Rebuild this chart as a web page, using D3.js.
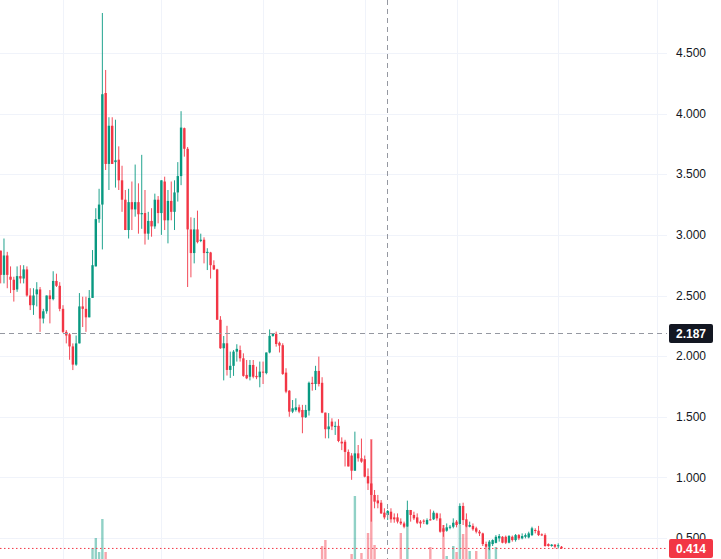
<!DOCTYPE html>
<html>
<head>
<meta charset="utf-8">
<script src="https://cdn.jsdelivr.net/npm/d3@7"></script>
<style>
  body { margin: 0; background: #fff; }
  svg { display: block; font-family: "Liberation Sans", Arial, sans-serif; }
</style>
</head>
<body>
<div id="chart"></div>
<script>
// daily candles
const opens = [2.87,2.67,2.83,2.655,2.63,2.55,2.66,2.64,2.715,2.50,2.42,2.51,2.55,2.31,2.37,2.50,2.47,2.62,2.58,2.39,
  2.20,2.18,2.08,1.93,2.105,2.41,2.39,2.32,2.48,2.74,3.13,3.25,4.17,3.585,3.90,3.60,3.62,3.45,3.29,3.04,
  3.27,3.21,3.27,3.17,3.18,3.01,3.115,3.07,3.29,3.18,3.44,3.12,3.28,3.19,3.35,3.485,3.88,3.71,3.045,2.85,
  3.045,2.95,2.96,2.85,2.855,2.75,2.715,2.30,2.065,2.106,1.886,1.92,2.037,2.05,1.982,1.845,1.83,1.927,1.837,1.826,
  1.872,1.86,2.03,2.167,2.183,2.11,2.09,1.864,1.715,1.542,1.556,1.578,1.556,1.496,1.55,1.78,1.77,1.878,1.78,1.534,
  1.397,1.46,1.42,1.425,1.294,1.294,1.21,1.18,1.055,1.198,1.157,1.15,1.01,0.95,0.855,0.81,0.791,0.709,0.69,0.717,
  0.67,0.67,0.635,0.62,0.593,0.731,0.69,0.67,0.635,0.643,0.615,0.654,0.654,0.703,0.662,0.58,0.56,0.588,0.593,0.635,
  0.615,0.764,0.654,0.593,0.60,0.58,0.552,0.538,0.45,0.428,0.45,0.46,0.497,0.51,0.51,0.461,0.51,0.483,0.524,0.497,
  0.51,0.505,0.524,0.566,0.56,0.53,0.524,0.45,0.434,0.445,0.434,0.428];
const highs = [2.87,2.97,2.86,2.74,2.655,2.74,2.75,2.75,2.74,2.56,2.56,2.61,2.57,2.39,2.50,2.545,2.70,2.68,2.61,2.42,
  2.215,2.19,2.105,2.17,2.52,2.49,2.49,2.545,2.875,3.22,3.38,4.83,4.36,3.97,3.97,3.95,3.73,3.57,3.37,3.38,
  3.44,3.58,3.425,3.66,3.37,3.19,3.22,3.34,3.32,3.45,3.48,3.37,3.44,3.45,3.60,4.02,3.885,3.725,3.145,3.14,
  3.20,3.01,2.98,2.89,2.86,2.79,2.72,2.33,2.166,2.25,2.037,2.05,2.098,2.087,2.023,1.968,1.968,1.968,1.913,1.955,
  1.955,2.03,2.22,2.19,2.202,2.12,2.106,1.90,1.72,1.638,1.652,1.60,1.598,1.598,1.79,1.83,1.92,1.996,1.826,1.534,
  1.53,1.487,1.46,1.48,1.33,1.31,1.23,1.20,1.377,1.267,1.32,1.18,1.074,1.31,0.896,0.855,0.813,0.745,0.731,0.745,
  0.703,0.703,0.662,0.635,0.808,0.731,0.717,0.703,0.648,0.654,0.662,0.736,0.725,0.709,0.703,0.607,0.62,0.607,0.662,0.648,
  0.786,0.791,0.703,0.635,0.62,0.593,0.566,0.544,0.47,0.483,0.489,0.524,0.533,0.516,0.52,0.524,0.52,0.533,0.533,0.538,
  0.538,0.552,0.593,0.58,0.60,0.538,0.538,0.456,0.45,0.45,0.456,0.434];
const lows = [2.60,2.60,2.56,2.52,2.45,2.53,2.60,2.60,2.49,2.38,2.34,2.41,2.20,2.27,2.35,2.27,2.46,2.57,2.37,2.19,
  2.105,1.97,1.885,1.92,2.105,2.24,2.20,2.32,2.48,2.74,3.10,2.88,3.535,3.37,3.585,3.39,3.37,3.19,3.04,2.97,
  3.04,3.15,3.01,3.05,2.92,2.96,2.985,3.05,3.095,3.00,3.04,2.93,3.12,3.04,3.275,3.41,3.645,2.57,2.65,2.765,
  2.93,2.94,2.765,2.71,2.64,2.71,2.30,2.06,1.80,1.84,1.82,1.837,1.955,1.955,1.83,1.81,1.80,1.817,1.81,1.743,
  1.77,1.85,2.023,2.16,2.078,2.03,1.845,1.694,1.50,1.53,1.543,1.529,1.364,1.49,1.51,1.715,1.72,1.75,1.529,1.322,
  1.322,1.39,1.35,1.29,1.225,1.09,1.09,0.98,1.055,1.13,1.12,1.0,0.896,0.635,0.745,0.745,0.698,0.654,0.648,0.626,
  0.626,0.62,0.607,0.58,0.593,0.635,0.648,0.615,0.585,0.615,0.607,0.643,0.648,0.643,0.544,0.51,0.552,0.572,0.58,0.588,
  0.607,0.607,0.588,0.588,0.56,0.538,0.516,0.434,0.423,0.40,0.434,0.456,0.47,0.456,0.45,0.456,0.47,0.47,0.483,0.489,
  0.497,0.497,0.516,0.538,0.516,0.516,0.428,0.428,0.428,0.414,0.414,0.41];
const closes = [2.67,2.83,2.67,2.63,2.545,2.66,2.64,2.715,2.50,2.42,2.50,2.55,2.31,2.37,2.50,2.47,2.62,2.58,2.39,2.20,
  2.17,2.08,1.93,2.105,2.41,2.39,2.32,2.48,2.75,3.13,3.25,4.16,3.585,3.90,3.585,3.615,3.45,3.29,3.04,3.27,
  3.21,3.27,3.17,3.18,3.01,3.115,3.07,3.29,3.18,3.45,3.12,3.28,3.19,3.35,3.485,3.885,3.71,3.045,2.85,3.045,
  2.94,2.96,2.85,2.86,2.75,2.715,2.30,2.065,2.106,1.886,1.92,2.037,2.06,1.982,1.837,1.817,1.927,1.83,1.826,1.872,
  1.864,2.03,2.167,2.183,2.10,2.087,1.853,1.707,1.542,1.57,1.578,1.542,1.496,1.556,1.78,1.77,1.878,1.77,1.534,1.397,
  1.42,1.42,1.425,1.30,1.28,1.21,1.09,1.055,1.198,1.157,1.13,1.006,0.95,0.855,0.80,0.786,0.703,0.67,0.723,0.654,
  0.654,0.635,0.62,0.593,0.731,0.69,0.662,0.626,0.62,0.635,0.648,0.648,0.709,0.662,0.552,0.552,0.588,0.593,0.626,0.607,
  0.764,0.648,0.593,0.607,0.572,0.552,0.538,0.45,0.428,0.47,0.483,0.51,0.516,0.461,0.461,0.516,0.483,0.524,0.497,0.516,
  0.524,0.538,0.58,0.56,0.524,0.524,0.434,0.434,0.445,0.428,0.44,0.414];

// volume bars (only the visible ones): candle index and height
const volumeIdx = [28,29,30,31,32,98,99,107,108,110,112,113,114,122,124,131,135,136,138,139,140,141,142,143,145,148,149,151];
const volumeVal = [11,21,7,40,7,13,19,5,63,6,26,120,14,26,32,12,34,3,13,7,34,25,32,8,8,12,12,12];

const priceTicks = [0.5,1.0,1.5,2.0,2.5,3.0,3.5,4.0,4.5];
const monthLines = [19,49,80,111,139,170,200];
const crossPrice = 2.187, crossIdx = 118;
const lastPrice = 0.414;

const W = 721, H = 559, paneRight = 667;
const UP = "#089981", DOWN = "#F23645";

const svg = d3.select("#chart").append("svg").attr("width", W).attr("height", H);

const x = d3.scaleLinear().domain([0, 171]).range([0.7, 561.5]);
const y = d3.scaleLinear().domain([0.5, 4.5]).range([538, 53]);
const v = d3.scaleLinear().domain([0, 120]).range([H, 439]);
const bw = 2.4;

// grid
svg.append("g").selectAll("line").data(priceTicks).join("line")
  .attr("x1", 0).attr("x2", paneRight)
  .attr("y1", d => Math.round(y(d)) + 0.5).attr("y2", d => Math.round(y(d)) + 0.5)
  .attr("stroke", "#f0f3fa");
svg.append("g").selectAll("line").data(monthLines).join("line")
  .attr("x1", d => Math.round(x(d)) + 0.5).attr("x2", d => Math.round(x(d)) + 0.5)
  .attr("y1", 0).attr("y2", H)
  .attr("stroke", "#f0f3fa");

const idx = d3.range(opens.length);
const col = i => closes[i] >= opens[i] ? UP : DOWN;

// volume
svg.append("g").selectAll("rect").data(volumeIdx).join("rect")
  .attr("x", (d) => x(d) - bw / 2)
  .attr("width", bw)
  .attr("y", (d, j) => v(volumeVal[j]))
  .attr("height", (d, j) => H - v(volumeVal[j]))
  .attr("fill", d => col(d))
  .attr("opacity", 0.45);

// last price line
svg.append("line")
  .attr("x1", 0).attr("x2", paneRight)
  .attr("y1", y(lastPrice)).attr("y2", y(lastPrice))
  .attr("stroke", DOWN).attr("stroke-dasharray", "1.5,2.5");

// candles
const candles = svg.append("g");
candles.selectAll("line").data(idx).join("line")
  .attr("x1", i => x(i)).attr("x2", i => x(i))
  .attr("y1", i => y(highs[i])).attr("y2", i => y(lows[i]))
  .attr("stroke", col).attr("stroke-width", 0.9);
candles.selectAll("rect").data(idx).join("rect")
  .attr("x", i => x(i) - bw / 2)
  .attr("width", bw)
  .attr("y", i => y(Math.max(opens[i], closes[i])))
  .attr("height", i => Math.max(1, Math.abs(y(opens[i]) - y(closes[i]))))
  .attr("fill", col);

// crosshair
svg.append("line")
  .attr("x1", Math.round(x(crossIdx)) - 0.5).attr("x2", Math.round(x(crossIdx)) - 0.5)
  .attr("y1", 0).attr("y2", H)
  .attr("stroke", "#9598a1").attr("stroke-dasharray", "5,4");
svg.append("line")
  .attr("x1", 0).attr("x2", paneRight)
  .attr("y1", Math.round(y(crossPrice)) + 0.5).attr("y2", Math.round(y(crossPrice)) + 0.5)
  .attr("stroke", "#9598a1").attr("stroke-dasharray", "5,4");

// price axis labels
svg.append("g").selectAll("text").data(priceTicks).join("text")
  .attr("x", 676).attr("y", d => y(d)).attr("dy", "0.35em")
  .attr("font-size", 12).attr("fill", "#131722")
  .text(d => d3.format(".3f")(d));

function tag(val, bg) {
  const g = svg.append("g").attr("transform", `translate(669,${y(val)})`);
  g.append("rect").attr("x", 0).attr("y", -9.5).attr("width", 44).attr("height", 19)
    .attr("rx", 2).attr("fill", bg);
  g.append("text").attr("x", 22).attr("dy", "0.36em").attr("text-anchor", "middle")
    .attr("font-size", 12).attr("font-weight", "bold").attr("fill", "#fff")
    .text(d3.format(".3f")(val));
}
tag(crossPrice, "#131722");
tag(lastPrice, DOWN);
</script>
</body>
</html>
